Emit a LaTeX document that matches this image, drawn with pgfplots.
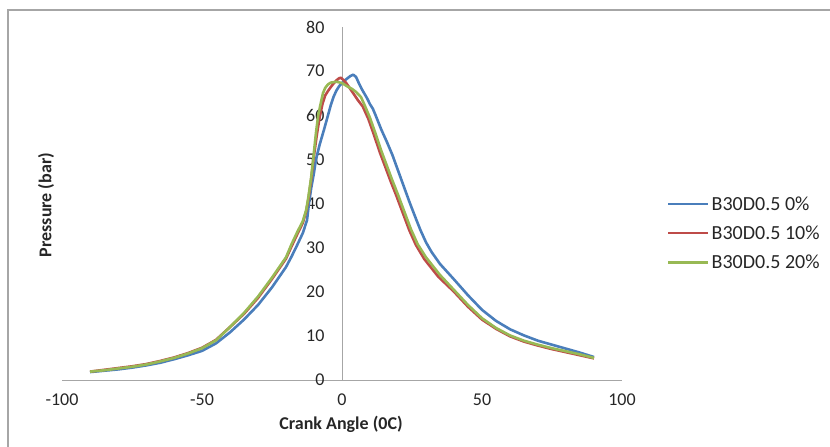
\documentclass[border=0pt]{standalone}
\usepackage{fontspec}
\setmainfont{Carlito}
\usepackage{pgfplots}
\pgfplotsset{compat=1.18}
\definecolor{cBlue}{HTML}{4A7EBB}
\definecolor{cRed}{HTML}{BE4B48}
\definecolor{cGreen}{HTML}{98B954}
\definecolor{axgray}{HTML}{A6A6A6}
\definecolor{txt}{HTML}{262626}
\begin{document}
\begin{tikzpicture}
\useasboundingbox (0pt,0pt) rectangle (830pt,-447pt);
\draw[color=gray!70,line width=1.2pt] (8pt,-447pt) -- (8pt,-10pt) -- (830pt,-10pt);
\begin{axis}[
  at={(62pt,-380pt)}, anchor=south west,
  width=560pt, height=353pt, scale only axis,
  xmin=-100, xmax=100, ymin=0, ymax=80,
  axis lines=middle,
  hide obscured x ticks=false, hide obscured y ticks=false,
  axis line style={draw=axgray, line width=1pt, -},
  xtick={-100,-50,0,50,100}, ytick={0,10,...,80},
  major tick length=0pt,
  tick label style={font=\fontsize{18}{20}\selectfont, color=txt},
  xticklabel style={yshift=-10pt},
  yticklabel style={xshift=-14pt},
  /pgf/number format/assume math mode=true,
  clip=false,
  legend style={at={(1.075,0.416)}, anchor=west, draw=none, fill=none,
    font=\fontsize{20}{22}\selectfont, text=txt, row sep=10pt,
    /tikz/every even column/.append style={column sep=1pt}},
  legend cell align=left,
  legend image code/.code={\draw[#1,line width=2.5pt] (0pt,0pt) -- (40pt,0pt);},
]
\addplot[cBlue, line width=2.6pt, line join=round] coordinates {
(-90,1.8)(-85,2.1)(-80,2.4)(-75,2.8)(-70,3.3)(-65,3.9)(-60,4.7)(-55,5.6)(-50,6.6)
(-45,8.3)(-40,10.8)(-35,13.7)(-30,17.0)(-25,21.0)(-20,25.6)(-18,28.0)(-16,30.6)
(-14,33.3)(-12.5,36.2)(-11.8,40)(-11,43.5)(-10,47)(-9.3,50)(-8,53.3)(-6.4,56.8)
(-5,60)(-4,62.3)(-3,64.2)(-2,65.6)(-1,66.6)(0,67.3)(1,67.9)(2,68.4)(3,68.9)(4,69.2)
(5,68.7)(6,67.3)(7,66.0)(8,64.9)(9,63.8)(10,62.5)(11,61.5)(12,60.0)(14,56.8)(16,54.0)
(18,51.0)(20,47.5)(22,44.0)(24,40.5)(26,37.2)(28,34.0)(30,31.2)(32,29.0)(35,26.3)
(40,22.8)(45,19.2)(50,15.9)(55,13.4)(60,11.5)(65,10.1)(70,8.9)(75,8.0)(80,7.1)
(85,6.2)(90,5.2)
};
\addlegendentry{B30D0.5 0\%}
\addplot[cRed, line width=2.6pt, line join=round] coordinates {
(-90,1.9)(-85,2.3)(-80,2.7)(-75,3.1)(-70,3.6)(-65,4.3)(-60,5.1)(-55,6.1)(-50,7.3)
(-45,9.1)(-40,12.0)(-35,15.0)(-30,18.6)(-25,22.9)(-20,27.5)(-18,30.3)(-16,33.0)
(-14,35.6)(-12.8,38.2)(-12,41)(-11,45.5)(-10.2,50)(-9,55.5)(-8,59.5)(-7,62.5)
(-6,64.5)(-5,65.5)(-4,66.4)(-3,67.2)(-2,67.9)(-1,68.4)(-0.4,68.5)(0.5,68.0)
(1.5,67.3)(2.5,66.4)(4,65.0)(5.7,63.4)(7.4,62.0)(9.4,59.2)(11.4,55.6)(13.4,51.8)
(15.4,48.4)(17.4,45.0)(19.4,41.8)(21.4,38.4)(24,34.0)(26.4,30.6)(29.4,27.4)
(34.4,23.4)(40,20.0)(45,16.6)(50,13.7)(55,11.6)(60,9.9)(65,8.7)(70,7.8)(75,7.0)
(80,6.3)(85,5.6)(90,4.9)
};
\addlegendentry{B30D0.5 10\%}
\addplot[cGreen, line width=2.6pt, line join=round] coordinates {
(-90,1.9)(-85,2.2)(-80,2.6)(-75,3.0)(-70,3.5)(-65,4.2)(-60,5.0)(-55,6.0)(-50,7.2)
(-45,9.0)(-40,12.0)(-35,15.2)(-30,18.9)(-25,23.2)(-20,27.8)(-18,30.8)(-16,33.5)
(-14,36.0)(-12.8,38.5)(-12,41.5)(-11,46)(-10.3,50)(-9.3,56)(-8.5,60)(-7.5,63)
(-6.8,65.0)(-6,66.2)(-5,67.0)(-4,67.4)(-2,67.6)(0,67.3)(1,66.9)(2,66.5)(3.5,66.0)
(5,65.3)(6.8,64.1)(8,62.4)(10,59.4)(12,55.8)(14,52.0)(16,48.6)(18,45.2)(20,42.0)
(22,38.6)(24.6,34.2)(27,30.8)(30,27.8)(35,23.8)(40,20.4)(45,17.0)(50,14.0)
(55,11.8)(60,10.1)(65,8.9)(70,8.0)(75,7.2)(80,6.5)(85,5.8)(90,5.0)
};
\addlegendentry{B30D0.5 20\%}
\end{axis}
\node[font=\fontsize{18}{20}\selectfont\bfseries, text=txt] at (341pt,-424pt) {Crank Angle (0C)};
\node[font=\fontsize{18}{20}\selectfont\bfseries, text=txt, rotate=90] at (46pt,-205pt) {Pressure (bar)};
\end{tikzpicture}
\end{document}
